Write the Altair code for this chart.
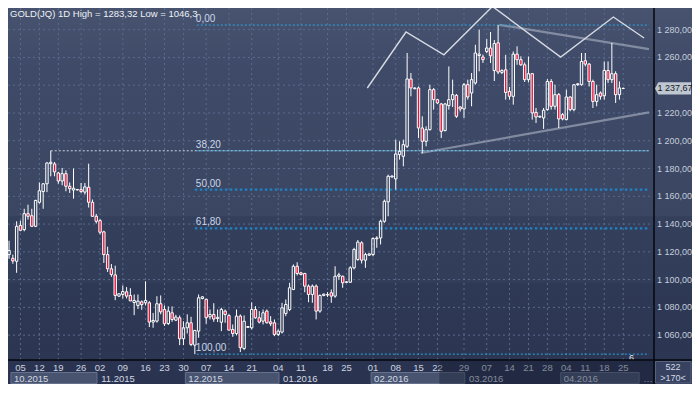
import altair as alt
import pandas as pd

FONT = "Liberation Sans"
TITLE = "GOLD(JQ) 1D High = 1283,32 Low = 1046,3"

# ---------------- candle data (one value per trading day) ----------------
opens = [
    1118, 1115.3, 1113.2, 1139, 1136, 1147.5, 1146, 1138.4, 1155.7, 1163.4,
    1169, 1183.5, 1183.3, 1176.8, 1171, 1176.3, 1167.2, 1164.5, 1164.9, 1164.8,
    1163, 1166.5, 1155.7, 1145.6, 1142.5, 1134.4, 1118, 1107.8, 1103.4, 1088.1,
    1089.3, 1091.2, 1088.6, 1083.5, 1081.4, 1084, 1083.3, 1083.3, 1069.4, 1070.1,
    1082.6, 1078.5, 1068.4, 1076.1, 1070.8, 1072.5, 1057.4, 1065.3, 1068.9, 1052.8,
    1062.9, 1086.4, 1085.8, 1073.2, 1074.9, 1072, 1069.3, 1077.3, 1074.2, 1064.1,
    1061.2, 1073.7, 1050.4, 1065.6, 1065.3, 1078.5, 1072.5, 1070.1, 1077.3, 1069.6,
    1068.9, 1060.5, 1062.2, 1075.6, 1078.5, 1092.9, 1109.6, 1104.9, 1104.4, 1095.3,
    1089.3, 1095.3, 1077.3, 1088.6, 1089.2, 1090.5, 1088.1, 1102.4, 1102.4, 1098,
    1098.1, 1108.5, 1114.5, 1126.5, 1114, 1117.6, 1118, 1129.4, 1130, 1142,
    1156, 1173.9, 1172.5, 1190, 1188.8, 1196, 1244.5, 1238, 1238, 1209.2,
    1199.6, 1208, 1236.8, 1229.6, 1226.5, 1207.3, 1225.3, 1229.6, 1232.7, 1224.3,
    1222.9, 1240.4, 1234.4, 1241.6, 1261.4, 1260.3, 1264.3, 1266.8, 1250.6, 1270.5,
    1249.2, 1251.1, 1235.5, 1232, 1262.4, 1258.4, 1254.7, 1244, 1248.3, 1220.4,
    1217.1, 1216.4, 1222.4, 1242.7, 1224.8, 1233.2, 1218.8, 1215.2, 1231.5, 1222.4,
    1240.4, 1240.4, 1257.6, 1255.2, 1242.7, 1228.3, 1234.4, 1232.4, 1250.6, 1244,
    1248.3, 1233.2, 1237.7,
]
highs = [
    1128, 1118, 1142, 1142.5, 1151, 1154, 1151, 1157.5, 1170, 1169.5,
    1184.5, 1192.8, 1184.7, 1177.6, 1180.4, 1178.7, 1170, 1180, 1165.3, 1169.6,
    1169.6, 1183.5, 1157.7, 1147.3, 1143.5, 1135.2, 1123.7, 1111.2, 1110, 1090,
    1095.8, 1094.6, 1093.8, 1089.3, 1089.3, 1085, 1098.8, 1084.5, 1076, 1088,
    1088.6, 1081.4, 1080.7, 1080.7, 1074.7, 1074.2, 1070, 1075, 1073.2, 1063.8,
    1089.3, 1088, 1086.2, 1078.5, 1083, 1078.5, 1079.7, 1078.5, 1074.9, 1067.7,
    1078.5, 1074.9, 1074.2, 1066.6, 1083.7, 1080.9, 1077.3, 1078.5, 1078.5, 1073.7,
    1071.3, 1064.1, 1083.3, 1085.7, 1097.7, 1110.9, 1112.5, 1105.6, 1104.9, 1096.5,
    1096.5, 1096.5, 1089.3, 1090, 1091, 1092.9, 1109.6, 1104.9, 1102.9, 1099,
    1109.6, 1122.9, 1128.5, 1127.6, 1119.3, 1119, 1130.5, 1131.2, 1143.2, 1157.6,
    1175.6, 1175, 1200.8, 1199.6, 1200.8, 1263.2, 1248.8, 1238.5, 1239.1, 1217.6,
    1210.4, 1240.4, 1238, 1230, 1227.2, 1227.2, 1253.5, 1244, 1233.7, 1225,
    1241.6, 1244, 1248.8, 1269.1, 1280, 1262, 1273.2, 1278.3, 1272.5, 1283.3,
    1251.5, 1261.9, 1238.7, 1264.3, 1268, 1260.8, 1256.4, 1260.7, 1248.8, 1223.6,
    1218, 1223.6, 1244.4, 1244.4, 1240.4, 1234.4, 1219.9, 1236.8, 1232, 1240.4,
    1241.5, 1263.2, 1263.2, 1256, 1244, 1240.4, 1235.5, 1257.1, 1257.1, 1270.4,
    1250, 1242.7, 1238.3,
]
lows = [
    1115, 1111.4, 1104.9, 1134.8, 1134.8, 1143.2, 1138, 1137.8, 1154.7, 1151,
    1163, 1174.4, 1174.4, 1169, 1168, 1163.6, 1162.4, 1158.3, 1164.2, 1162.4,
    1161.2, 1151.9, 1145.2, 1140.4, 1132.6, 1112, 1105.5, 1102, 1085.2, 1087.5,
    1086.4, 1086.4, 1084.5, 1074.4, 1078.8, 1078.2, 1081.4, 1065.8, 1065.3, 1069,
    1075, 1066.6, 1067.3, 1069.6, 1070.1, 1052.8, 1052.8, 1061.2, 1052.1, 1046.3,
    1058.1, 1085.8, 1068.2, 1071.3, 1069.6, 1069.4, 1062.9, 1068.9, 1063.4, 1058.8,
    1059.8, 1047.8, 1049.2, 1065.3, 1064.1, 1071.8, 1068.4, 1067.7, 1068.4, 1066.5,
    1059.3, 1059.3, 1061.2, 1073.7, 1077.3, 1092.4, 1103, 1103, 1090.9, 1083.7,
    1083.3, 1071.3, 1076.1, 1088, 1087.5, 1083.3, 1086.9, 1100, 1094.1, 1097.5,
    1097.7, 1107.3, 1113.5, 1111.6, 1108.5, 1117, 1116.8, 1122.9, 1125.3, 1140.9,
    1145.6, 1173.5, 1164.8, 1186.4, 1181.6, 1194.8, 1232, 1237, 1202, 1191,
    1196, 1207.3, 1222.4, 1226.5, 1202, 1206.8, 1222.4, 1224.3, 1216.4, 1221,
    1216.4, 1229.6, 1224.8, 1240.4, 1250, 1256, 1263.2, 1256, 1243, 1248,
    1248, 1229.6, 1229.6, 1226, 1254.7, 1254, 1242.3, 1242, 1215.2, 1212.8,
    1216.5, 1208.5, 1221.6, 1222.4, 1222.4, 1209.2, 1214.7, 1214.7, 1221.2, 1221.2,
    1239.5, 1239.6, 1253.5, 1239.1, 1223.6, 1224.8, 1229.6, 1229.6, 1241.6, 1241.6,
    1227.2, 1229.6, 1237.3,
]
closes = [
    1121, 1113.5, 1138.4, 1135.5, 1147.5, 1145.6, 1138.4, 1157, 1164, 1169,
    1184, 1184.5, 1177.6, 1171, 1176.3, 1167.2, 1165.5, 1165.8, 1164.6, 1163.4,
    1166.8, 1155.7, 1145.6, 1142, 1134.1, 1118, 1107.8, 1103.7, 1088.6, 1089.8,
    1091.4, 1088.1, 1084.7, 1085, 1084.5, 1082, 1085, 1069.4, 1070.6, 1082.6,
    1076.8, 1068.2, 1077.3, 1071.3, 1073, 1057.4, 1065.3, 1068.9, 1053.3, 1063.4,
    1086.9, 1087.6, 1072.6, 1074.9, 1071.6, 1072.8, 1078.5, 1074.9, 1063.6, 1061.2,
    1073.7, 1051, 1070, 1066.2, 1078.5, 1072.5, 1069.4, 1076.1, 1068.9, 1068.2,
    1060.5, 1062.9, 1079.7, 1082.1, 1094.1, 1109.6, 1104.4, 1103.7, 1095.3, 1089.3,
    1095.3, 1077.3, 1088.6, 1089.5, 1088.9, 1088.1, 1102.4, 1103.4, 1097.7, 1098.4,
    1108.5, 1121.7, 1127, 1114, 1118, 1118.5, 1129.6, 1130, 1142, 1156.4,
    1174.4, 1174.6, 1190.5, 1192.4, 1197.2, 1244.5, 1238, 1237.5, 1209.2, 1199.6,
    1208, 1236.8, 1229.6, 1227.2, 1206.8, 1226.5, 1229.6, 1233.2, 1217.6, 1222.9,
    1240.4, 1231.5, 1244, 1263.2, 1262.4, 1258.4, 1266.8, 1261.2, 1270, 1249.5,
    1250.6, 1234.8, 1232, 1262.4, 1258.4, 1254.7, 1244, 1248.3, 1220, 1217.1,
    1217.6, 1221.9, 1242.7, 1224.8, 1233.2, 1215.7, 1215.7, 1231.5, 1222.4, 1240.4,
    1241, 1257.1, 1255.2, 1242.7, 1228.3, 1233.2, 1232, 1250.6, 1244, 1248.3,
    1233.2, 1238, 1237.67,
]

# ---------------- axis labels ----------------
week_labels = ["05", "12", "19", "26", "02", "09", "16", "23", "30", "07", "14", "21",
               "04", "11", "18", "25", "01", "08", "15", "22", "29", "07", "14", "21",
               "28", "04", "11", "18", "25"]
week_idx = [3, 8, 13, 19, 24, 30, 36, 41, 46, 52, 58, 64, 71, 77, 84, 89, 96, 102,
            108, 113, 120, 126, 132, 137, 142, 147, 152, 157, 162]
month_labels = ["10.2015", "11.2015", "12.2015", "01.2016", "02.2016", "03.2016", "04.2016", "05.2016"]
month_start = [1, 24, 47, 72, 96, 121, 146, 167]
month_end = [24, 47, 72, 96, 121, 146, 167, 180]
month_light = [True, False, True, False, True, False, True, False]
price_ticks = [1060, 1080, 1100, 1120, 1140, 1160, 1180, 1200, 1220, 1240, 1260, 1280]

# ---------------- annotations ----------------
fib_names = ["0,00", "38,20", "50,00", "61,80", "100,00"]
fib_prices = [1283.32, 1192.78, 1164.81, 1136.84, 1046.3]
fib_thick = [False, False, True, True, False]
fib_start = 49
oct_high_idx = 11
zig_idx = [94.5, 104.7, 114.7, 127.5, 145.5, 159.4, 167.5]
zig_price = [1238.0, 1278.3, 1261.9, 1296.7, 1260.3, 1289.1, 1274.0]
upper_idx = [129.3, 168.8]
upper_price = [1283.5, 1266.0]
lower_idx = [108.6, 168.8]
lower_price = [1191.2, 1220.4]
last_price = 1237.67
bars_total = "522"
bars_visible = ">170<"
overlay_from = 113.5


def eu(v):
    return f"{v:,.2f}".replace(",", " ").replace(".", ",")


# ---------------- layout ----------------
W, H = 646, 352
RP, BP = 38, 24
X_DOM = [1.04, 168.8]
Y_DOM = [1042.1, 1295.6]
xs = alt.Scale(domain=X_DOM, nice=False, zero=False)
ys = alt.Scale(domain=Y_DOM, nice=False, zero=False)

one = pd.DataFrame({"k": [0]})

grad = alt.LinearGradient(
    gradient="linear", x1=0, x2=0, y1=0, y2=1,
    stops=[
        alt.GradientStop(color="#47536f", offset=0),
        alt.GradientStop(color="#3e4a67", offset=0.17),
        alt.GradientStop(color="#3a4662", offset=0.59),
        alt.GradientStop(color="#333f5b", offset=0.593),
        alt.GradientStop(color="#313d59", offset=0.78),
        alt.GradientStop(color="#2e3955", offset=0.783),
        alt.GradientStop(color="#2c3652", offset=1),
    ],
)
bg = alt.Chart(one).mark_rect(color=grad).encode(
    x=alt.value(0), x2=alt.value(W + RP), y=alt.value(0), y2=alt.value(H))

ydf = pd.DataFrame({"p": price_ticks, "t": [eu(v) for v in price_ticks]})
# the price tag hides the tick label it covers, as in the original terminal
ydf_lab = ydf[(ydf["p"] - last_price).abs() > 6]
hgrid = alt.Chart(ydf).mark_rule(
    color="#5a6a8e", strokeDash=[2, 3], strokeWidth=1).encode(
    y=alt.Y("p:Q", scale=ys, axis=None), x=alt.value(0), x2=alt.value(W))
ylab = alt.Chart(ydf_lab).mark_text(
    align="left", baseline="middle", color="#c6cedb", fontSize=9, font=FONT).encode(
    x=alt.value(W + 3), y=alt.Y("p:Q", scale=ys, axis=None), text="t:N")

vgrid = alt.Chart(pd.DataFrame({"i": week_idx})).mark_rule(
    color="#5a6a8e", strokeDash=[2, 3], strokeWidth=1).encode(
    x=alt.X("i:Q", scale=xs, axis=None), y=alt.value(0), y2=alt.value(H))

upper = alt.Chart(pd.DataFrame({"i": upper_idx, "p": upper_price})).mark_line(
    color="#9ea6b8", strokeWidth=2.2, opacity=0.7, clip=True).encode(
    x=alt.X("i:Q", scale=xs, axis=None), y=alt.Y("p:Q", scale=ys, axis=None))
lower = alt.Chart(pd.DataFrame({"i": lower_idx, "p": lower_price})).mark_line(
    color="#9ea6b8", strokeWidth=2.2, opacity=0.7, clip=True).encode(
    x=alt.X("i:Q", scale=xs, axis=None), y=alt.Y("p:Q", scale=ys, axis=None))

fib_df = pd.DataFrame({"name": fib_names, "p": fib_prices, "thick": fib_thick})
fib_df["s"] = fib_start
fib_df["e"] = X_DOM[1]
oct_line = alt.Chart(pd.DataFrame({"s": [oct_high_idx], "e": [X_DOM[1]], "p": [fib_prices[1]]})).mark_rule(
    color="#c9d0dc", strokeDash=[2, 2], strokeWidth=1).encode(
    x=alt.X("s:Q", scale=xs, axis=None), x2="e:Q", y=alt.Y("p:Q", scale=ys, axis=None))
fib_thin = alt.Chart(fib_df[~fib_df["thick"]]).mark_rule(
    color="#2aa6e2", strokeDash=[2, 2], strokeDashOffset=2, strokeWidth=1).encode(
    x=alt.X("s:Q", scale=xs, axis=None), x2="e:Q", y=alt.Y("p:Q", scale=ys, axis=None))
fib_wide = alt.Chart(fib_df[fib_df["thick"]]).mark_rule(
    color="#1f82c4", strokeDash=[2.5, 2.5], strokeWidth=2.2).encode(
    x=alt.X("s:Q", scale=xs, axis=None), x2="e:Q", y=alt.Y("p:Q", scale=ys, axis=None))
fib_text = alt.Chart(fib_df).mark_text(
    align="left", baseline="bottom", dx=1, dy=-1, color="#c9d6ea", fontSize=10, font=FONT).encode(
    x=alt.X("s:Q", scale=xs, axis=None), y=alt.Y("p:Q", scale=ys, axis=None), text="name:N")

cdf = pd.DataFrame({"o": opens, "h": highs, "l": lows, "c": closes})
cdf["i"] = range(len(cdf))
cdf["top"] = cdf[["o", "c"]].max(axis=1)
cdf["bot"] = cdf[["o", "c"]].min(axis=1)
X = alt.X("i:Q", scale=xs, axis=None)
wick_hi = alt.Chart(cdf).mark_rule(color="white", strokeWidth=1, clip=True).encode(
    x=X, y=alt.Y("h:Q", scale=ys, axis=None), y2="top:Q")
wick_lo = alt.Chart(cdf).mark_rule(color="white", strokeWidth=1, clip=True).encode(
    x=X, y=alt.Y("bot:Q", scale=ys, axis=None), y2="l:Q")
bodies = alt.Chart(cdf).mark_bar(size=2.4, stroke="white", strokeWidth=1, clip=True, fillOpacity=1).encode(
    x=X, y=alt.Y("o:Q", scale=ys, axis=None), y2="c:Q",
    fill=alt.condition("datum.c < datum.o", alt.value("#e3173e"), alt.value("transparent")))

zig = alt.Chart(pd.DataFrame({"i": zig_idx, "p": zig_price})).mark_line(
    color="#d6dae2", strokeWidth=1.4).encode(
    x=alt.X("i:Q", scale=xs, axis=None), y=alt.Y("p:Q", scale=ys, axis=None), order="i:Q")

title = alt.Chart(one).mark_text(
    text=TITLE, align="left", baseline="top", color="#eef1f5", fontSize=9.5, font=FONT).encode(
    x=alt.value(2), y=alt.value(1))

six = alt.Chart(pd.DataFrame({"i": [164.2], "p": [fib_prices[4]]})).mark_text(
    text="6", baseline="middle", dy=4, color="#e6eaf0", fontSize=9, font=FONT).encode(
    x=alt.X("i:Q", scale=xs, axis=None), y=alt.Y("p:Q", scale=ys, axis=None))

# ---------------- bottom strip ----------------
strip = alt.Chart(one).mark_rect(color="#2a3350").encode(
    x=alt.value(0), x2=alt.value(W + RP), y=alt.value(H), y2=alt.value(H + BP))
mdf = pd.DataFrame({"lab": month_labels, "s": month_start, "e": month_end, "light": month_light})
mdf["s0"] = mdf["s"] - 0.5
mdf["e0"] = mdf["e"] - 0.8
mboxes = alt.Chart(mdf[mdf["light"]]).mark_rect(
    color="#47536f", stroke="#65718d", strokeWidth=1).encode(
    x=alt.X("s0:Q", scale=xs, axis=None), x2="e0:Q", y=alt.value(H + 12.5), y2=alt.value(H + 23.5))
mtext = alt.Chart(mdf.iloc[:-1]).mark_text(
    align="left", baseline="middle", dx=3, color="#d2d9e4", fontSize=9.5, font=FONT).encode(
    x=alt.X("s0:Q", scale=xs, axis=None), y=alt.value(H + 18.5), text="lab:N")
# last month label is cut off by the corner box, as in the original
mtext_last = alt.Chart(mdf.iloc[-1:]).mark_text(
    align="left", baseline="middle", dx=3, color="#d2d9e4", fontSize=9.5, font=FONT,
    limit=7, ellipsis="").encode(
    x=alt.X("s0:Q", scale=xs, axis=None), y=alt.value(H + 18.5), text="lab:N")
wtext = alt.Chart(pd.DataFrame({"i": week_idx, "lab": week_labels})).mark_text(
    align="center", baseline="middle", color="#cdd5e0", fontSize=9.5, font=FONT).encode(
    x=alt.X("i:Q", scale=xs, axis=None), y=alt.value(H + 7.5), text="lab:N")
overlay = alt.Chart(pd.DataFrame({"s": [overlay_from]})).mark_rect(
    color="#171e31", opacity=0.42).encode(
    x=alt.X("s:Q", scale=xs, axis=None), x2=alt.value(W), y=alt.value(H + 1), y2=alt.value(H + BP))
vline = alt.Chart(one).mark_rule(color="#05070c", strokeWidth=1.5).encode(
    x=alt.value(W), y=alt.value(0), y2=alt.value(H + BP))
hline = alt.Chart(one).mark_rule(color="#05070c", strokeWidth=1.5).encode(
    y=alt.value(H), x=alt.value(0), x2=alt.value(W + RP))
rbox = alt.Chart(one).mark_rect(color="#36425f", stroke="#56627e", strokeWidth=1).encode(
    x=alt.value(W + 1.5), x2=alt.value(W + RP - 1), y=alt.value(H + 1.5), y2=alt.value(H + BP - 1))
rt1 = alt.Chart(one).mark_text(text=bars_total, align="center", baseline="middle",
                               color="#d4dbe6", fontSize=9, font=FONT).encode(
    x=alt.value(W + 19), y=alt.value(H + 6.5))
rt2 = alt.Chart(one).mark_text(text=bars_visible, align="center", baseline="middle",
                               color="#d4dbe6", fontSize=9, font=FONT).encode(
    x=alt.value(W + 19), y=alt.value(H + 18))

# ---------------- current price marker ----------------
lp = pd.DataFrame({"p": [last_price], "t": [eu(last_price)]})
marker = alt.Chart(lp).mark_point(
    shape="M -1 0 L -0.82 -0.34 L 1 -0.34 L 1 0.34 L -0.82 0.34 Z",
    size=36 * 36, filled=True, color="#bfc7d1", opacity=1, strokeWidth=0).encode(
    x=alt.value(W + 19), y=alt.Y("p:Q", scale=ys, axis=None))
marker_t = alt.Chart(lp).mark_text(
    align="center", baseline="middle", color="#141a26", fontSize=9, font=FONT, dx=1).encode(
    x=alt.value(W + 20), y=alt.Y("p:Q", scale=ys, axis=None), text="t:N")

chart = alt.layer(
    bg, hgrid, vgrid, upper, lower, oct_line, fib_thin, fib_wide,
    wick_hi, wick_lo, bodies, zig, fib_text, title, six, ylab,
    strip, mboxes, mtext, mtext_last, wtext, overlay, vline, hline, rbox, rt1, rt2,
    marker, marker_t,
).properties(
    width=W, height=H,
    padding={"left": 0, "top": 0, "right": RP, "bottom": BP},
    autosize=alt.AutoSizeParams(type="none"),
).configure(background="#323d59").configure_view(stroke=None)

chart.save("out.html", embed_options={"renderer": "svg", "actions": False})
